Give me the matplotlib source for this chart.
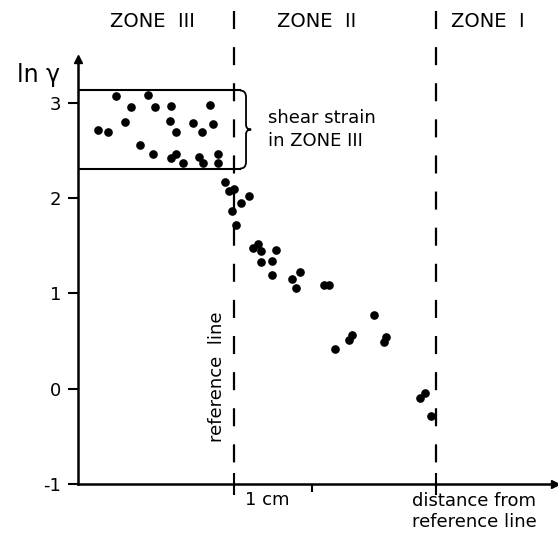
import numpy as np
import matplotlib
matplotlib.use("Agg")
import matplotlib.pyplot as plt
from matplotlib.path import Path
from matplotlib.patches import PathPatch

plt.rcParams['axes.unicode_minus'] = False
plt.rcParams['lines.scale_dashes'] = False

# zone III points (distance from reference line in cm, ln gamma)
x_z3 = [-1.51, -1.10, -1.32, -1.01, -0.81, -0.31, -1.40, -0.82, -0.52, -0.27,
        -1.75, -1.61, -0.75, -0.41, -1.21, -1.04, -0.81, -0.74, -0.65, -0.45,
        -0.40, -0.20, -0.20]
y_z3 = [3.07, 3.08, 2.96, 2.96, 2.97, 2.98, 2.80, 2.81, 2.79, 2.78,
        2.71, 2.69, 2.69, 2.69, 2.56, 2.46, 2.42, 2.46, 2.37, 2.43,
        2.37, 2.46, 2.37]

# zone II / zone I points
x_z2 = [-0.11, -0.06, 0.00, 0.19, 0.09, -0.03, 0.02, 0.24, 0.31, 0.35,
        0.54, 0.35, 0.49, 0.49, 0.85, 0.74, 0.80, 1.15, 1.22, 1.80,
        1.51, 1.48, 1.95, 1.92, 1.30, 2.45, 2.39, 2.53]
y_z2 = [2.17, 2.08, 2.10, 2.02, 1.95, 1.86, 1.72, 1.48, 1.52, 1.44,
        1.46, 1.33, 1.34, 1.19, 1.22, 1.15, 1.06, 1.09, 1.09, 0.77,
        0.56, 0.51, 0.54, 0.49, 0.42, -0.04, -0.10, -0.29]

yticks = [-1, 0, 1, 2, 3]
ref_x = 0.0
zone1_x = 2.59
box_top, box_bot = 3.13, 2.31

fig = plt.figure(figsize=(5.58, 5.34), dpi=100)
ax = fig.add_axes([78/558, 50/534, 477/558, 425/534])
ax.set_xlim(-2.0, 4.115)
ax.set_ylim(-1, 3.46)

for s in ['top', 'right']:
    ax.spines[s].set_visible(False)
for s in ['left', 'bottom']:
    ax.spines[s].set_linewidth(1.8)

# arrow heads
ax.plot(1, -1, '>k', ms=6, transform=ax.get_yaxis_transform(), clip_on=False)
ax.plot(-2.0, 1, '^k', ms=6, transform=ax.get_xaxis_transform(), clip_on=False)

ax.set_yticks(yticks)
ax.set_yticklabels([str(v) for v in yticks], fontsize=13)
ax.tick_params(axis='y', direction='out', length=7, width=1.5, pad=5)

ax.set_xticks([ref_x, zone1_x])
ax.set_xticklabels([])
ax.tick_params(axis='x', direction='inout', length=16, width=1.5)
ax.set_xticks([1.0], minor=True)
ax.tick_params(axis='x', which='minor', direction='out', length=6, width=1.5)

# vertical dashed lines
for xv in [ref_x, zone1_x]:
    ax.plot([xv, xv], [3.96, -0.95], color='k', lw=1.6,
            linestyle=(0, (13, 13)), clip_on=False)

# box with brace for zone III
x0, x1, x2 = 0.077, 0.154, 0.22
ymid = (box_top + box_bot) / 2
ax.plot([-2.0, x0], [box_top, box_top], color='k', lw=1.5)
ax.plot([-2.0, x0], [box_bot, box_bot], color='k', lw=1.5)
verts = [(x0, box_top), (x1, box_top), (x1, box_top - 0.07),
         (x1, ymid + 0.05), (x1, ymid), (x2, ymid),
         (x1, ymid), (x1, ymid - 0.05),
         (x1, box_bot + 0.07), (x1, box_bot), (x0, box_bot)]
codes = [Path.MOVETO, Path.CURVE3, Path.CURVE3,
         Path.LINETO, Path.CURVE3, Path.CURVE3,
         Path.CURVE3, Path.CURVE3,
         Path.LINETO, Path.CURVE3, Path.CURVE3]
ax.add_patch(PathPatch(Path(verts, codes), fill=False, lw=1.3, color='k'))

ax.plot(x_z3, y_z3, 'o', color='k', ms=5.2, clip_on=False)
ax.plot(x_z2, y_z2, 'o', color='k', ms=5.2, clip_on=False)

# labels
ax.text(-1.05, 3.85, 'ZONE  III', fontsize=14, ha='center', va='center')
ax.text(1.06, 3.85, 'ZONE  II', fontsize=14, ha='center', va='center')
ax.text(3.26, 3.85, 'ZONE  I', fontsize=14, ha='center', va='center')
ax.text(-2.5, 3.29, 'ln γ', fontsize=17, ha='center', va='center')
ax.text(0.44, 2.72, 'shear strain\nin ZONE III', fontsize=13,
        ha='left', va='center', linespacing=1.3)
ax.text(-0.22, 0.13, 'reference  line', fontsize=13, rotation=90,
        ha='center', va='center')
ax.text(0.14, -1.165, '1 cm', fontsize=13, ha='left', va='center')
ax.text(3.08, -1.29, 'distance from\nreference line', fontsize=13,
        ha='center', va='center', linespacing=1.25)

fig.savefig('out.png', dpi=100)
